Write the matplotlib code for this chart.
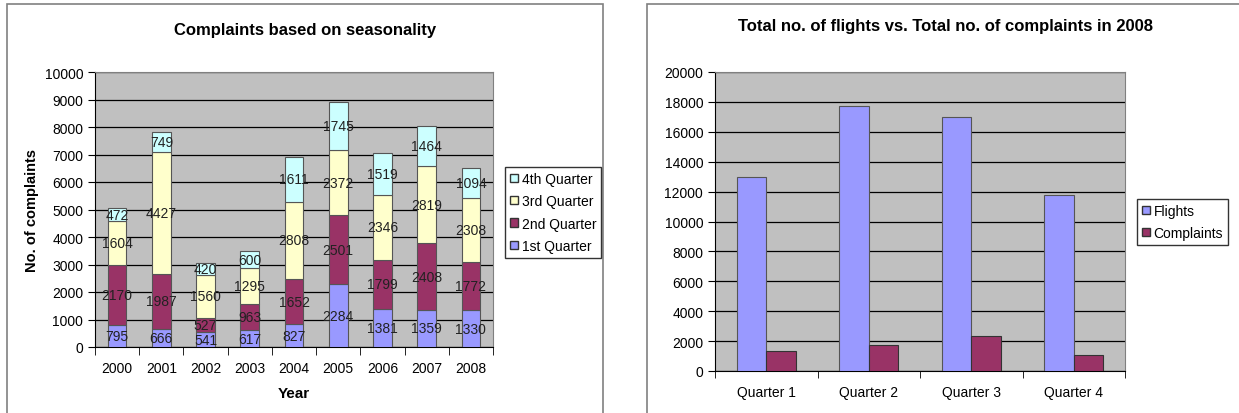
import matplotlib
matplotlib.use("Agg")
import matplotlib.pyplot as plt
from matplotlib.patches import Rectangle, Patch
import numpy as np

plt.rcParams['font.family'] = ['Liberation Sans', 'DejaVu Sans']

years = ["2000", "2001", "2002", "2003", "2004", "2005", "2006", "2007", "2008"]
q1 = [795, 666, 541, 617, 827, 2284, 1381, 1359, 1330]
q2 = [2170, 1987, 527, 963, 1652, 2501, 1799, 2408, 1772]
q3 = [1604, 4427, 1560, 1295, 2808, 2372, 2346, 2819, 2308]
q4 = [472, 749, 420, 600, 1611, 1745, 1519, 1464, 1094]
quarter_names = ["1st Quarter", "2nd Quarter", "3rd Quarter", "4th Quarter"]

quarters = ["Quarter 1", "Quarter 2", "Quarter 3", "Quarter 4"]
flights = [13000, 17700, 17000, 11800]
complaints = [1330, 1772, 2308, 1094]

colors = ["#9999FF", "#993366", "#FFFFCC", "#CCFFFF"]
plot_bg = "#C0C0C0"

fig = plt.figure(figsize=(12.39, 4.14), dpi=100)

# chart frames (Excel style)
fig.patches.append(Rectangle((7 / 1239, -0.1), 596 / 1239, 1.088, transform=fig.transFigure,
                             fill=False, edgecolor="#808080", linewidth=1.2))
fig.patches.append(Rectangle((647 / 1239, -0.1), 0.5, 1.088, transform=fig.transFigure,
                             fill=False, edgecolor="#808080", linewidth=1.2))

leg_kw = dict(fontsize=10, frameon=True, fancybox=False, edgecolor="black",
              handlelength=0.55, handleheight=0.55, handletextpad=0.3,
              borderpad=0.35, borderaxespad=0, labelspacing=0.6)

# ---- left chart: stacked bars ----
ax1 = fig.add_axes([95 / 1239, 66 / 414, 398 / 1239, 275 / 414])
ax1.set_facecolor(plot_bg)
x = np.arange(len(years))
bottom = np.zeros(len(years))
series = [q1, q2, q3, q4]
handles = []
for vals, col, name in zip(series, colors, quarter_names):
    ax1.bar(x, vals, 0.42, bottom=bottom, color=col, edgecolor="#555555",
            linewidth=0.8, zorder=3, label=name)
    for xi, b, v in zip(x, bottom, vals):
        ax1.text(xi, b + v / 2, str(v), ha="center", va="center", fontsize=10,
                 color="#222222", zorder=4)
    bottom = bottom + np.array(vals)
    handles.append(Patch(facecolor=col, edgecolor="#333333", label=name))

ax1.set_xlim(-0.5, len(years) - 0.5)
ax1.set_ylim(0, 10000)
ax1.set_yticks(np.arange(0, 10001, 1000))
ax1.yaxis.grid(True, color="black", linewidth=0.9, zorder=0)
ax1.set_axisbelow(True)
ax1.set_xticks(x)
ax1.set_xticklabels(years, fontsize=10)
ax1.set_xticks(np.arange(-0.5, len(years)), minor=True)
ax1.tick_params(axis="x", which="major", length=0, pad=10)
ax1.tick_params(axis="x", which="minor", length=6, direction="out", color="black")
ax1.tick_params(axis="y", length=5, direction="out", labelsize=10)
for s in ["top", "right"]:
    ax1.spines[s].set_color("#808080")
for s in ["left", "bottom"]:
    ax1.spines[s].set_color("black")
ax1.set_xlabel("Year", fontsize=11, fontweight="bold", labelpad=8)
ax1.set_ylabel("No. of complaints", fontsize=10.5, fontweight="bold", labelpad=4)
fig.text(305 / 1239, 1 - 30 / 414, "Complaints based on seasonality", ha="center",
         va="center", fontsize=12, fontweight="bold")
leg1 = fig.legend(handles=handles[::-1], loc="upper left",
                  bbox_to_anchor=(505 / 1239, 1 - 168 / 414), **leg_kw)
leg1.get_frame().set_linewidth(1)

# ---- right chart: grouped bars ----
ax2 = fig.add_axes([715 / 1239, 42 / 414, 410 / 1239, 299 / 414])
ax2.set_facecolor(plot_bg)
xq = np.arange(len(quarters))
w = 0.29
ax2.bar(xq - w / 2, flights, w, color=colors[0], edgecolor="#555555", linewidth=0.8,
        zorder=3, label="Flights")
ax2.bar(xq + w / 2, complaints, w, color=colors[1], edgecolor="#333333", linewidth=0.8,
        zorder=3, label="Complaints")
ax2.set_xlim(-0.5, len(quarters) - 0.5)
ax2.set_ylim(0, 20000)
ax2.set_yticks(np.arange(0, 20001, 2000))
ax2.yaxis.grid(True, color="black", linewidth=0.9, zorder=0)
ax2.set_axisbelow(True)
ax2.set_xticks(xq)
ax2.set_xticklabels(quarters, fontsize=10)
ax2.set_xticks(np.arange(-0.5, len(quarters)), minor=True)
ax2.tick_params(axis="x", which="major", length=0, pad=10)
ax2.tick_params(axis="x", which="minor", length=5, direction="out", color="black")
ax2.tick_params(axis="y", length=5, direction="out", labelsize=10)
for s in ["top", "right"]:
    ax2.spines[s].set_color("#808080")
for s in ["left", "bottom"]:
    ax2.spines[s].set_color("black")
fig.text(945 / 1239, 1 - 27 / 414, "Total no. of flights vs. Total no. of complaints in 2008",
         ha="center", va="center", fontsize=12, fontweight="bold")
h2 = [Patch(facecolor=colors[0], edgecolor="#333333", label="Flights"),
      Patch(facecolor=colors[1], edgecolor="#333333", label="Complaints")]
leg2 = fig.legend(handles=h2, loc="upper left",
                  bbox_to_anchor=(1137 / 1239, 1 - 200 / 414), **leg_kw)
leg2.get_frame().set_linewidth(1)

fig.savefig("out.png", dpi=100)
